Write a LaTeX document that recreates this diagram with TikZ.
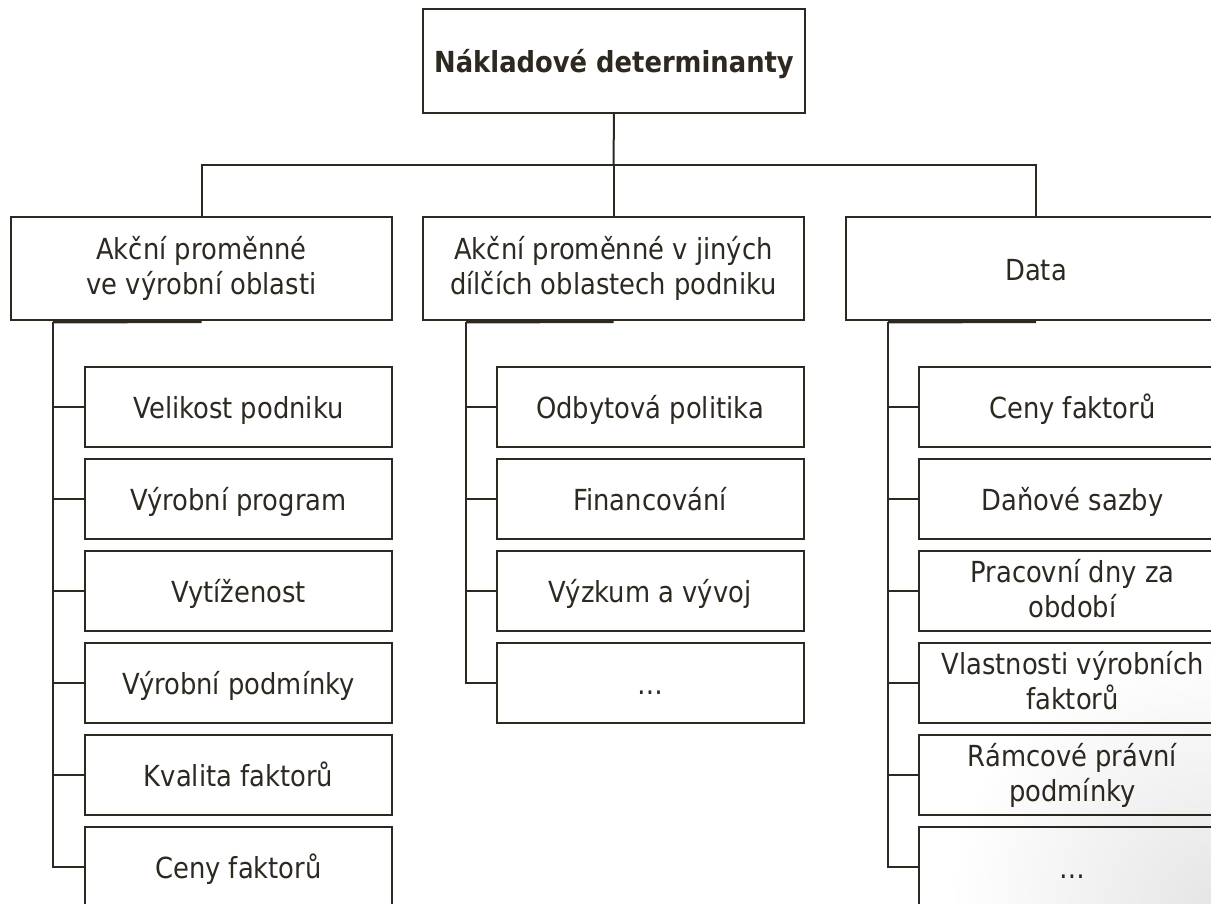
\documentclass[tikz,border=0pt]{standalone}
\usepackage{fontspec}
\setmainfont[FakeStretch=0.89]{DejaVu Sans}
\usetikzlibrary{fadings}

\definecolor{inkcol}{RGB}{45,41,33}
\tikzfading[name=cornerfade, inner color=transparent!90, outer color=transparent!100]

\tikzset{
    box/.style={draw=inkcol, line width=2pt, fill=white, inner sep=0pt, outer sep=0pt,
        align=center, text=inkcol, font=\fontsize{29}{35}\selectfont,
        execute at begin node={\rule{0pt}{29pt}},
        execute at end node={\rule[-6pt]{0pt}{6pt}}},
    headbox/.style={box, minimum width=382pt, minimum height=104pt,
        font=\fontsize{29}{35}\selectfont\bfseries},
    groupbox/.style={box, minimum width=381pt, minimum height=103pt},
    itembox/.style={box, minimum width=307pt, minimum height=80pt},
    link/.style={draw=inkcol, line width=2pt}
}

\begin{document}
\begin{tikzpicture}[x=1pt, y=-1pt]
    \path[use as bounding box, clip] (0,0) rectangle (1211,904);

    % Draw the top box
    \node[headbox] (head) at (614,61) {Nákladové determinanty};

    % Draw the three groups
    \node[groupbox] (prod) at (201.5,268.5) {Akční proměnné\\ve výrobní oblasti};
    \node[groupbox] (other) at (613.5,268.5) {Akční proměnné v jiných\\dílčích oblastech podniku};
    \node[groupbox] (data) at (1036,268.5) {Data};

    % Join the top box to the groups
    \coordinate (split) at (613.5,165);
    \draw[link] (head.south) -- (split);
    \draw[link] (prod.north) |- (split) -| (data.north);
    \draw[link] (split) -- (other.north);

    % Items of the first group
    \node[itembox] (p1) at (238.5,407) {Velikost podniku};
    \node[itembox] (p2) at (238.5,499) {Výrobní program};
    \node[itembox] (p3) at (238.5,591) {Vytíženost};
    \node[itembox] (p4) at (238.5,683) {Výrobní podmínky};
    \node[itembox] (p5) at (238.5,775) {Kvalita faktorů};
    \node[itembox] (p6) at (238.5,867) {Ceny faktorů};

    % Items of the second group
    \node[itembox] (o1) at (650,407) {Odbytová politika};
    \node[itembox] (o2) at (650,499) {Financování};
    \node[itembox] (o3) at (650,591) {Výzkum a vývoj};
    \node[itembox] (o4) at (650,683) {…};

    % Items of the third group
    \node[itembox] (d1) at (1072.5,407) {Ceny faktorů};
    \node[itembox] (d2) at (1072.5,499) {Daňové sazby};
    \node[itembox] (d3) at (1072.5,591) {Pracovní dny za\\období};
    \node[itembox] (d4) at (1072.5,683) {Vlastnosti výrobních\\faktorů};
    \node[itembox] (d5) at (1072.5,775) {Rámcové právní\\podmínky};
    \node[itembox] (d6) at (1072.5,867) {…};

    % Draw the side lines to the items
    \coordinate (ptrunk) at (53,322);
    \coordinate (otrunk) at (466,322);
    \coordinate (dtrunk) at (888,322);
    \draw[link, line width=3pt] ([yshift=-1.5pt]prod.south) -- (ptrunk);
    \draw[link, line width=3pt] ([yshift=-1.5pt]other.south) -- (otrunk);
    \draw[link, line width=3pt] ([yshift=-1.5pt]data.south) -- (dtrunk);
    \foreach \n in {p1,p2,p3,p4,p5,p6}
        \draw[link] (ptrunk) |- (\n.west);
    \foreach \n in {o1,o2,o3,o4}
        \draw[link] (otrunk) |- (\n.west);
    \foreach \n in {d1,d2,d3,d4,d5,d6}
        \draw[link] (dtrunk) |- (\n.west);

    % Soft shadow in the lower right corner
    \fill[black, path fading=cornerfade] (1211,904) circle (260);
\end{tikzpicture}
\end{document}
